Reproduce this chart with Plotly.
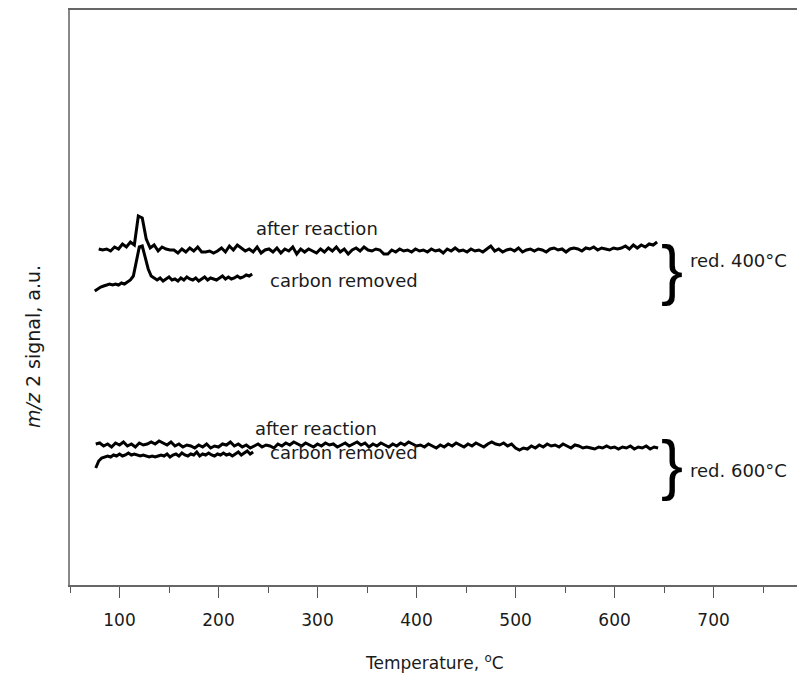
import plotly.graph_objects as go

# ---------------- data (signal in arbitrary units) ----------------
# red. 400 °C, after reaction: sampled every 4 °C from 79 °C
AR400_START, AR400_STEP = 79, 4
AR400_Y = [336,335,336,334,338,336,341,338,343,340,369,367,346,337,340,334,338,336,335,335,
           332,336,333,337,334,338,333,333,334,332,334,337,333,339,335,340,337,334,336,333,
           338,332,335,336,333,337,332,336,334,338,331,336,333,336,334,332,336,333,337,334,
           338,333,336,331,335,337,334,338,335,334,336,335,331,331,335,333,336,334,335,333,
           336,334,335,333,336,334,335,332,336,334,337,334,335,333,336,334,335,333,336,339,
           334,336,333,335,336,334,337,333,335,336,334,336,335,333,336,337,335,336,333,336,
           337,336,334,337,336,338,335,337,336,335,337,336,337,339,336,340,337,340,338,341,
           340,343]

# red. 400 °C, carbon removed: sampled every 3 °C from 75 °C
CR400_START, CR400_STEP = 75, 3
CR400_Y = [294,296,298,299,300,301,300,301,300,302,301,303,305,309,322,338,339,327,316,309,
           307,305,307,304,306,308,305,306,304,307,305,308,306,305,307,304,306,308,305,307,
           306,305,307,309,306,308,306,307,309,307,308,310,309,311]

# red. 600 °C, after reaction: sampled every 4 °C from 76 °C
AR600_START, AR600_STEP = 76, 4
AR600_Y = [141,142,139,141,138,142,140,143,139,141,138,142,140,141,143,141,144,142,140,143,
           139,141,138,140,139,137,140,138,141,137,139,138,141,140,143,139,141,138,140,137,
           139,141,138,140,139,137,141,139,142,140,143,141,139,142,140,138,141,139,142,140,
           141,138,140,142,139,141,143,140,142,138,141,139,142,140,138,141,139,142,140,143,
           141,139,140,138,141,139,137,140,138,141,139,142,140,138,141,139,142,140,138,141,
           143,141,140,142,139,141,137,135,137,136,139,137,140,138,141,139,140,138,141,139,
           137,140,139,137,138,137,136,138,137,139,137,138,136,138,137,139,136,138,137,139,
           136,138,137]

# red. 600 °C, carbon removed: sampled every 3 °C from 76 °C
CR600_START, CR600_STEP = 76, 3
CR600_Y = [117,124,127,128,129,128,130,129,131,129,130,132,130,131,130,129,130,129,128,129,
           128,129,130,129,131,128,130,131,129,132,130,129,131,130,133,129,131,130,132,130,
           129,131,130,132,130,131,129,131,133,130,132,134,131,133]

X_TICKS = [100, 200, 300, 400, 500, 600, 700]
X_RANGE = [50, 784.3]
Y_RANGE = [0, 575]

SERIES = [
    (AR400_START, AR400_STEP, AR400_Y),
    (CR400_START, CR400_STEP, CR400_Y),
    (AR600_START, AR600_STEP, AR600_Y),
    (CR600_START, CR600_STEP, CR600_Y),
]

# label text and anchor (temperature, signal)
LABELS = [
    ("after reaction", 236, 357),
    ("carbon removed", 250, 305),
    ("after reaction", 235, 157),
    ("carbon removed", 250, 133),
    ("red. 400°C", 674, 325),
    ("red. 600°C", 674, 115),
]
BRACES = [(658, 316), (658, 121)]

FONT = "DejaVu Sans, Liberation Sans, sans-serif"
BRACE_FONT = "Liberation Sans, Arial, sans-serif"
TXT = "#1a1a1a"

fig = go.Figure()
for start, step, ys in SERIES:
    xs = [start + step * i for i in range(len(ys))]
    fig.add_trace(go.Scatter(x=xs, y=ys, mode="lines",
                             line=dict(color="black", width=3),
                             showlegend=False, hoverinfo="skip"))

for text, x, y in LABELS:
    fig.add_annotation(x=x, y=y, text=text, showarrow=False, xanchor="left",
                       yanchor="middle", font=dict(family=FONT, size=18, color=TXT))

for x, y in BRACES:
    fig.add_annotation(x=x, y=y, text="}", showarrow=False, xanchor="center",
                       yanchor="middle", font=dict(family=BRACE_FONT, size=66, color="black"))

# axis titles
fig.add_annotation(xref="paper", yref="paper", x=-0.0509, y=0.4157,
                   text="<i>m/z</i> 2 signal, a.u.", textangle=-90, showarrow=False,
                   xanchor="center", yanchor="middle",
                   font=dict(family=FONT, size=19, color=TXT))
fig.add_annotation(xref="paper", yref="paper", x=0.502, y=-0.1339,
                   text="Temperature, <sup>o</sup>C", showarrow=False,
                   xanchor="center", yanchor="middle",
                   font=dict(family=FONT, size=17, color=TXT))

fig.update_layout(
    width=797, height=673,
    margin=dict(l=70, r=0, t=10, b=88),
    paper_bgcolor="white", plot_bgcolor="white",
    font=dict(family=FONT, size=16, color=TXT),
    xaxis=dict(range=X_RANGE, tickvals=X_TICKS, ticks="outside", ticklen=11,
               tickwidth=1, tickcolor="#555", showline=True, linecolor="#666",
               linewidth=2, mirror=True, showgrid=False, zeroline=False,
               ticklabelstandoff=8, tickfont=dict(family=FONT, size=17, color=TXT),
               minor=dict(dtick=50, tick0=0, ticks="outside", ticklen=6,
                          tickcolor="#555", showgrid=False)),
    yaxis=dict(range=Y_RANGE, showticklabels=False, ticks="", showline=True,
               linecolor="#888", linewidth=2, showgrid=False, zeroline=False),
)

fig.write_html("out.html", config={"displayModeBar": False},
               post_script="document.body.style.margin='0';document.body.style.padding='0';"
                           "document.body.style.overflow='hidden';")
